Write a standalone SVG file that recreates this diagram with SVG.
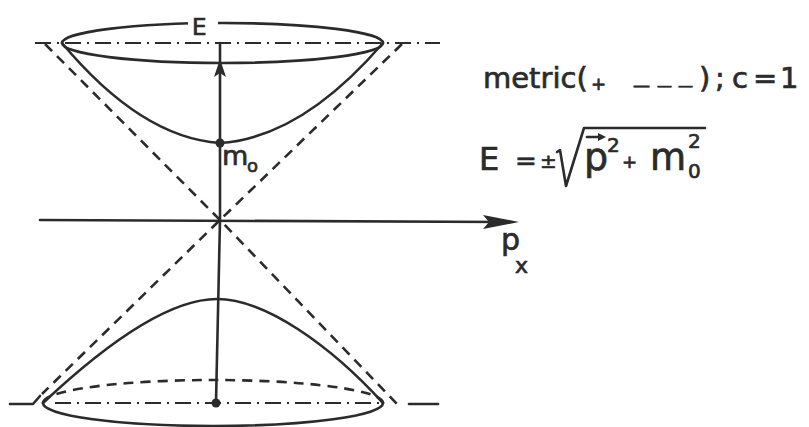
<svg xmlns="http://www.w3.org/2000/svg" width="809" height="427" viewBox="0 0 809 427">
<style>
.s{fill:none;stroke:#2b2b2b;stroke-width:2.6;stroke-linecap:round;stroke-linejoin:round}
.dash{fill:none;stroke:#2b2b2b;stroke-width:2.6;stroke-dasharray:10 7}
.dd{fill:none;stroke:#2b2b2b;stroke-width:2.2;stroke-dasharray:16 6 2 6}
.t{fill:#2b2b2b;stroke:#2b2b2b;stroke-width:0.7;font-family:"DejaVu Sans","Liberation Sans",sans-serif}
.f{fill:#2b2b2b}
</style>
<rect width="809" height="427" fill="#fff"/>
<g id="asymptotes">
<path class="dash" d="M45,44 L220,220 L398,405"/>
<path class="dash" d="M402,44 L220,220 L42,394"/>
<path class="s" d="M10,404 L33,404 L40,396"/>
<line class="s" x1="409" y1="404" x2="438" y2="404"/>
</g>
<g id="axes">
<line class="s" x1="40" y1="220" x2="505" y2="222"/>
<polygon class="f" points="519,222 483,215 489,222 483,229"/>
<line class="s" x1="220" y1="220" x2="220" y2="43"/>
<polygon class="f" points="220,59 214,77 220,73 226,77"/>
<line class="s" x1="220" y1="220" x2="216" y2="403"/>
</g>
<g id="upper-shell">
<line class="dd" x1="35" y1="43" x2="440" y2="43"/>
<path class="s" d="M62,43 A160.5,20 0 0 1 383,43 A160.5,20 0 0 1 62,43"/>
<path class="s" d="M62,43 Q141,137.6 220,143 Q301.5,137.7 383,43"/>
<circle class="f" cx="220" cy="143" r="4.5"/>
<rect x="188" y="17" width="30" height="13" fill="#fff"/>
<text class="t" x="192" y="35" font-size="23">E</text>
<text class="t" x="222" y="165" font-size="27">m</text>
<text class="t" x="247" y="172" font-size="18">o</text>
</g>
<g id="lower-shell">
<line class="dd" x1="55" y1="403" x2="383" y2="403"/>
<path class="s" d="M43,403 A170,23 0 0 0 383,403"/>
<path class="dash" d="M43,403 A170,23 0 0 1 383,403"/>
<path class="s" d="M43,403 C110,340 170,299 217,299 C265,299 330,345 383,403"/>
<circle class="f" cx="216" cy="403" r="4.5"/>
</g>
<g id="px-label">
<text class="t" x="501" y="250" font-size="30">p</text>
<text class="t" x="515" y="273" font-size="22">x</text>
</g>
<g id="metric">
<text class="t" font-size="29" y="88"><tspan x="483">metric(</tspan><tspan x="591" y="90" font-size="18">+</tspan><tspan x="633" y="91" font-size="17">—</tspan><tspan x="657" y="91" font-size="15">—</tspan><tspan x="678" y="91" font-size="15">—</tspan><tspan x="699" y="88">)</tspan><tspan x="715">;</tspan><tspan x="732">c</tspan><tspan x="753">=</tspan><tspan x="780">1</tspan></text>
</g>
<g id="formula">
<text class="t" x="479" y="170" font-size="32">E</text>
<text class="t" x="515" y="170" font-size="26">=</text>
<text class="t" x="540" y="168" font-size="20">±</text>
<polyline class="s" points="557,152 560,150 566,186 584,128 705,128"/>
<text class="t" x="584" y="170" font-size="38">p</text>
<line class="s" x1="587" y1="137" x2="602" y2="137" stroke-width="1.8"/>
<polygon class="f" points="606,137 598,133 598,141"/>
<text class="t" x="607" y="152" font-size="20">2</text>
<text class="t" x="622" y="168" font-size="18">+</text>
<text class="t" x="650" y="170" font-size="37">m</text>
<text class="t" x="688" y="148" font-size="20">2</text>
<text class="t" x="688" y="178" font-size="20">0</text>
</g>
</svg>
